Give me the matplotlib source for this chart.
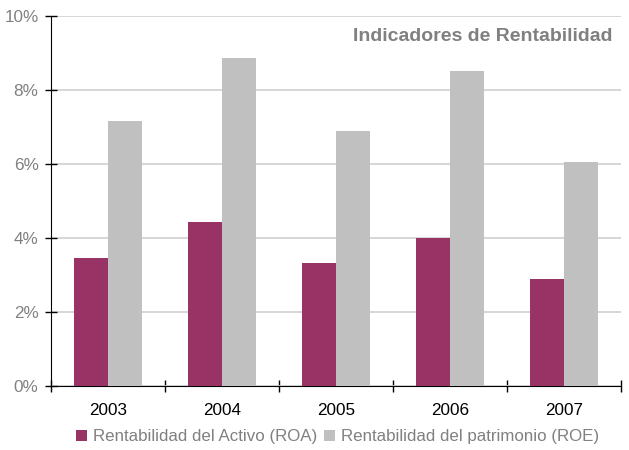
import numpy as np
import matplotlib
matplotlib.use("Agg")
import matplotlib.pyplot as plt

plt.rcParams['font.family'] = ['Liberation Sans', 'DejaVu Sans']

# datos
years = ["2003", "2004", "2005", "2006", "2007"]
roa = [3.46, 4.43, 3.32, 4.00, 2.89]
roe = [7.16, 8.86, 6.89, 8.51, 6.05]

fig = plt.figure(figsize=(6.29, 4.5), dpi=100)
ax = fig.add_axes([0.0811, 0.1422, 0.9062, 0.8222])

x = np.arange(len(years))
w = 0.295
ax.bar(x - w/2, roa, w, color="#993366", label="Rentabilidad del Activo (ROA)", zorder=3)
ax.bar(x + w/2, roe, w, color="#C0C0C0", label="Rentabilidad del patrimonio (ROE)", zorder=3)

ax.set_xlim(-0.5, len(years) - 0.5)
ax.set_ylim(0, 10)
ax.set_yticks(np.arange(0, 11, 2))
ax.set_yticklabels([f"{v}%" for v in range(0, 11, 2)])
ax.yaxis.grid(True, color="#D0D0D0", linewidth=1.2, zorder=0)

# ticks del eje x en los limites de las categorias
ax.set_xticks(np.arange(-0.5, len(years)), minor=False)
ax.set_xticklabels([])
ax.set_xticks(x, minor=True)
ax.set_xticklabels(years, minor=True)
ax.tick_params(axis="x", which="major", direction="inout", length=9, width=1, color="black")
ax.tick_params(axis="x", which="minor", length=0, pad=12, labelsize=12.3, labelcolor="black")
ax.tick_params(axis="y", direction="inout", length=8, width=1, color="black",
               pad=5, labelsize=12.3, labelcolor="#808080")

for s in ["top", "right"]:
    ax.spines[s].set_visible(False)
ax.spines["left"].set_color("black")
ax.spines["bottom"].set_color("black")

ax.text(0.985, 0.945, "Indicadores de Rentabilidad", transform=ax.transAxes,
        ha="right", va="center", fontsize=14, fontweight="bold", color="#808080")

leg = fig.legend(loc="center", bbox_to_anchor=(0.536, 0.029), ncol=2, frameon=False,
                 fontsize=12.2, handlelength=0.7, handleheight=0.7, handletextpad=0.3,
                 columnspacing=0.4)
for t in leg.get_texts():
    t.set_color("#808080")

fig.savefig("out.png", dpi=100)
